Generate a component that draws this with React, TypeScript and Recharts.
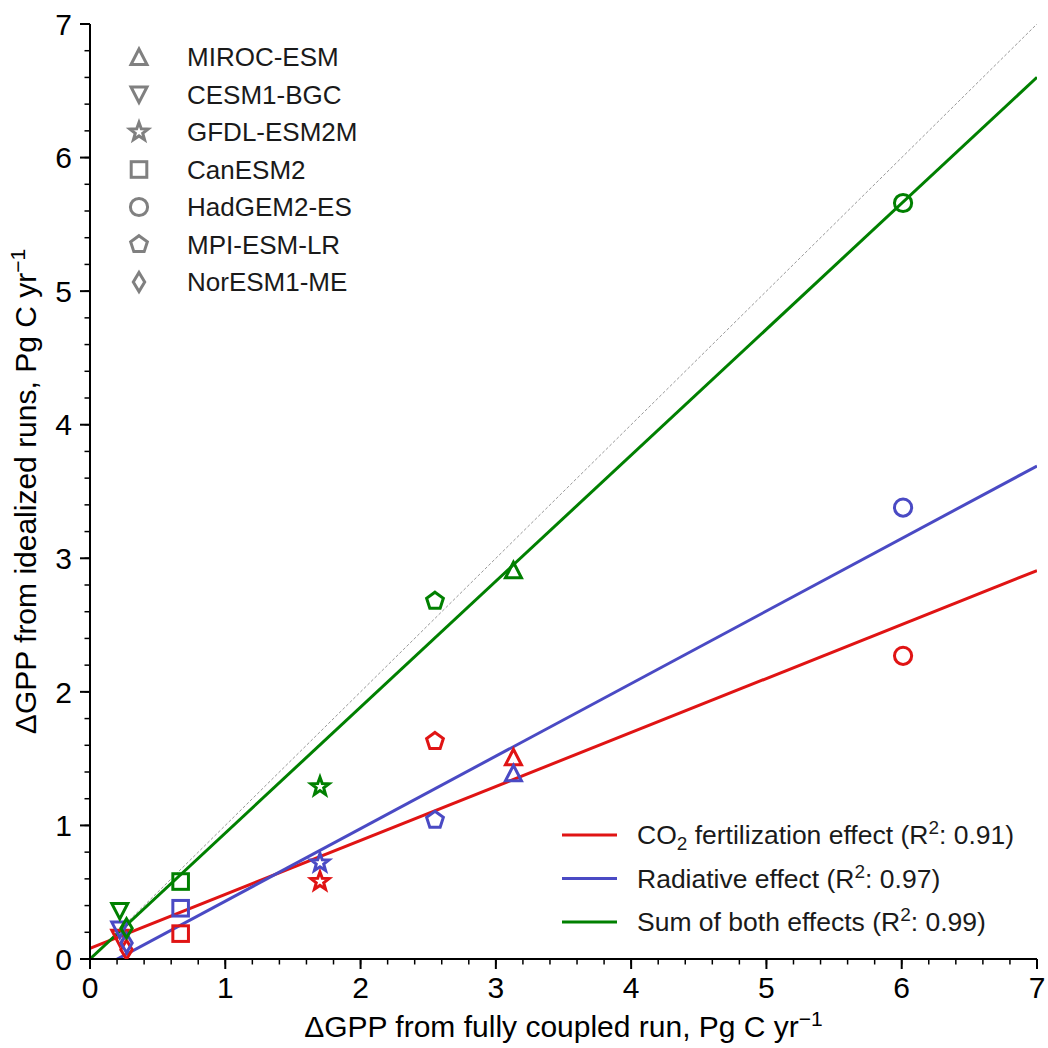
import React from 'react';
import { ScatterChart, Scatter, XAxis, YAxis, ReferenceLine } from 'recharts';

// models and the marker used for each
const models = ['MIROC-ESM', 'CESM1-BGC', 'GFDL-ESM2M', 'CanESM2', 'HadGEM2-ES', 'MPI-ESM-LR', 'NorESM1-ME'];
const modelShapes = ['triangle', 'triangleDown', 'star', 'square', 'circle', 'pentagon', 'diamond'];

// dGPP from the fully coupled run (x) and from the idealized runs (y), Pg C/yr
const coupledRun = [3.13, 0.22, 1.7, 0.67, 6.01, 2.55, 0.27];
const co2Effect = [1.51, 0.16, 0.58, 0.19, 2.27, 1.63, 0.07];
const radiativeEffect = [1.39, 0.22, 0.72, 0.38, 3.38, 1.04, 0.12];
const sumEffect = [2.91, 0.36, 1.29, 0.58, 5.66, 2.68, 0.23];

// linear fits
const fitIntercepts = [0.08, -0.11, 0.0];
const fitSlopes = [0.404, 0.543, 0.943];
const fitR2 = ['0.91', '0.97', '0.99'];

const majorTicks = [0, 1, 2, 3, 4, 5, 6, 7];
const minorTicks = [0.2, 0.4, 0.6, 0.8, 1.2, 1.4, 1.6, 1.8, 2.2, 2.4, 2.6, 2.8, 3.2, 3.4, 3.6, 3.8, 4.2, 4.4, 4.6, 4.8, 5.2, 5.4, 5.6, 5.8, 6.2, 6.4, 6.6, 6.8];
const allTicks = [...majorTicks, ...minorTicks].sort((a, b) => a - b);
const axisDomain = [0, 7];

const RED = '#e01414';
const BLUE = '#4a4ac4';
const GREEN = '#008000';
const GREY = '#808080';
const FONT = "'Liberation Sans', Arial, Helvetica, sans-serif";

const seriesList = [
  { name: 'co2', values: co2Effect, color: RED },
  { name: 'radiative', values: radiativeEffect, color: BLUE },
  { name: 'sum', values: sumEffect, color: GREEN },
];
const fitColors = [RED, BLUE, GREEN];

// the axis draws every tick at minor length; majors get lengthened in the tick renderers
const MAJOR_LEN = 10;
const MINOR_LEN = 5.5;
const LABEL_OFFSET = 18;

const polygon = (cx: number, cy: number, n: number, rOuter: number, rInner?: number) => {
  const pts: string[] = [];
  const count = rInner ? n * 2 : n;
  for (let k = 0; k < count; k++) {
    const r = rInner && k % 2 === 1 ? rInner : rOuter;
    const a = -Math.PI / 2 + (k * 2 * Math.PI) / count;
    pts.push(`${cx + r * Math.cos(a)},${cy + r * Math.sin(a)}`);
  }
  return pts.join(' ');
};

const MarkerShape = ({ kind, cx, cy, color }: { kind: string; cx: number; cy: number; color: string }) => {
  const common = { fill: 'none', stroke: color, strokeWidth: 3, strokeLinejoin: 'miter' as const };
  switch (kind) {
    case 'triangle':
      return <polygon points={`${cx},${cy - 8} ${cx - 8},${cy + 7.5} ${cx + 8},${cy + 7.5}`} {...common} />;
    case 'triangleDown':
      return <polygon points={`${cx},${cy + 8} ${cx - 8},${cy - 7.5} ${cx + 8},${cy - 7.5}`} {...common} />;
    case 'star':
      return <polygon points={polygon(cx, cy, 5, 9.5, 3.9)} {...common} />;
    case 'square':
      return <rect x={cx - 7.8} y={cy - 7.8} width={15.6} height={15.6} {...common} />;
    case 'circle':
      return <circle cx={cx} cy={cy} r={8.6} {...common} />;
    case 'pentagon':
      return <polygon points={polygon(cx, cy, 5, 8.8)} {...common} />;
    case 'diamond':
      return <polygon points={`${cx},${cy - 9.5} ${cx + 5.7},${cy} ${cx},${cy + 9.5} ${cx - 5.7},${cy}`} {...common} />;
    default:
      return null;
  }
};

const isMajor = (v: number) => majorTicks.includes(v);

const BottomTick = (props: any) => {
  const { x, y, payload } = props;
  if (!isMajor(payload.value)) return <g />;
  const axisY = y - LABEL_OFFSET;
  return (
    <g>
      <line x1={x} y1={axisY} x2={x} y2={axisY + MAJOR_LEN} stroke="#000" strokeWidth={2} />
      <text x={x} y={y} dy="0.71em" textAnchor="middle" fontSize={30} fill="#000" fontFamily={FONT}>
        {payload.value}
      </text>
    </g>
  );
};

const TopTick = (props: any) => {
  const { x, y, payload } = props;
  if (!isMajor(payload.value)) return <g />;
  const axisY = y + LABEL_OFFSET;
  return <line x1={x} y1={axisY} x2={x} y2={axisY - MAJOR_LEN} stroke="#000" strokeWidth={2} />;
};

const LeftTick = (props: any) => {
  const { x, y, payload } = props;
  if (!isMajor(payload.value)) return <g />;
  const axisX = x + LABEL_OFFSET;
  return (
    <g>
      <line x1={axisX} y1={y} x2={axisX - MAJOR_LEN} y2={y} stroke="#000" strokeWidth={2} />
      <text x={x} y={y} dy="0.355em" textAnchor="end" fontSize={30} fill="#000" fontFamily={FONT}>
        {payload.value}
      </text>
    </g>
  );
};

const RightTick = (props: any) => {
  const { x, y, payload } = props;
  if (!isMajor(payload.value)) return <g />;
  const axisX = x - LABEL_OFFSET;
  return <line x1={axisX} y1={y} x2={axisX + MAJOR_LEN} y2={y} stroke="#000" strokeWidth={2} />;
};

const axisLine = { stroke: '#000', strokeWidth: 2 };
const minorTickLine = { stroke: '#000', strokeWidth: 1.5 };

const Overlay = () => (
  <svg
    width={1048}
    height={1048}
    style={{ position: 'absolute', left: 0, top: 0, pointerEvents: 'none' }}
    fontFamily={FONT}
  >
    {/* axis titles */}
    <text x={563.5} y={1037} textAnchor="middle" fontSize={30} fill="#000">
      ΔGPP from fully coupled run, Pg C yr
      <tspan dy={-11} fontSize={21}>−1</tspan>
    </text>
    <text x={36} y={491.5} textAnchor="middle" fontSize={30} fill="#000" transform="rotate(-90 36 491.5)">
      ΔGPP from idealized runs, Pg C yr
      <tspan dy={-11} fontSize={21}>−1</tspan>
    </text>

    {/* model legend */}
    {models.map((m, i) => {
      const cy = 57 + i * 37.5;
      return (
        <g key={m}>
          <MarkerShape kind={modelShapes[i]} cx={139} cy={cy} color={GREY} />
          <text x={187} y={cy + 9.3} fontSize={26} fill="#1a1a1a">
            {m}
          </text>
        </g>
      );
    })}

    {/* fit legend */}
    {fitColors.map((c, i) => {
      const cy = 835 + i * 43.5;
      return (
        <g key={c}>
          <line x1={562} y1={cy} x2={617} y2={cy} stroke={c} strokeWidth={3} />
          <text x={637} y={cy + 9.3} fontSize={26.5} fill="#1a1a1a">
            {i === 0 && (
              <>
                CO<tspan dy={6} fontSize={19}>2</tspan>
                <tspan dy={-6}> fertilization effect (R</tspan>
              </>
            )}
            {i === 1 && 'Radiative effect (R'}
            {i === 2 && 'Sum of both effects (R'}
            <tspan dy={-10} fontSize={19}>2</tspan>
            <tspan dy={10}>: {fitR2[i]})</tspan>
          </text>
        </g>
      );
    })}
  </svg>
);

const axisCommon = {
  type: 'number' as const,
  domain: axisDomain,
  ticks: allTicks,
  interval: 0 as const,
  allowDataOverflow: true,
  tickSize: MINOR_LEN,
  tickMargin: LABEL_OFFSET - MINOR_LEN,
  axisLine,
  tickLine: minorTickLine,
};

export default function App() {
  return (
    <div style={{ position: 'absolute', left: 0, top: 0, width: 1048, height: 1048, background: '#fff', fontFamily: FONT }}>
      <ScatterChart width={1048} height={1048} margin={{ top: 24, right: 11, bottom: 0, left: 0 }}>
        <XAxis {...axisCommon} dataKey="x" height={89} tick={BottomTick} />
        <XAxis xAxisId="top" orientation="top" {...axisCommon} dataKey="x" height={0} tick={TopTick} />
        <YAxis {...axisCommon} dataKey="y" width={90} tick={LeftTick} />
        <YAxis yAxisId="right" orientation="right" {...axisCommon} dataKey="y" width={0} tick={RightTick} />
        <ReferenceLine
          segment={[{ x: 0, y: 0 }, { x: 7, y: 7 }]}
          stroke="#999"
          strokeWidth={1}
          strokeDasharray="3 2"
          ifOverflow="hidden"
        />
        {fitColors.map((c, i) => (
          <ReferenceLine
            key={c}
            segment={[
              { x: 0, y: fitIntercepts[i] },
              { x: 7, y: fitIntercepts[i] + fitSlopes[i] * 7 },
            ]}
            stroke={c}
            strokeWidth={3}
            ifOverflow="hidden"
          />
        ))}
        {seriesList.map((s) => (
          <Scatter
            key={s.name}
            name={s.name}
            data={coupledRun.map((x, i) => ({ x, y: s.values[i], shape: modelShapes[i] }))}
            isAnimationActive={false}
            shape={(p: any) => <MarkerShape kind={p.payload.shape} cx={p.cx} cy={p.cy} color={s.color} />}
          />
        ))}
      </ScatterChart>
      <Overlay />
    </div>
  );
}
